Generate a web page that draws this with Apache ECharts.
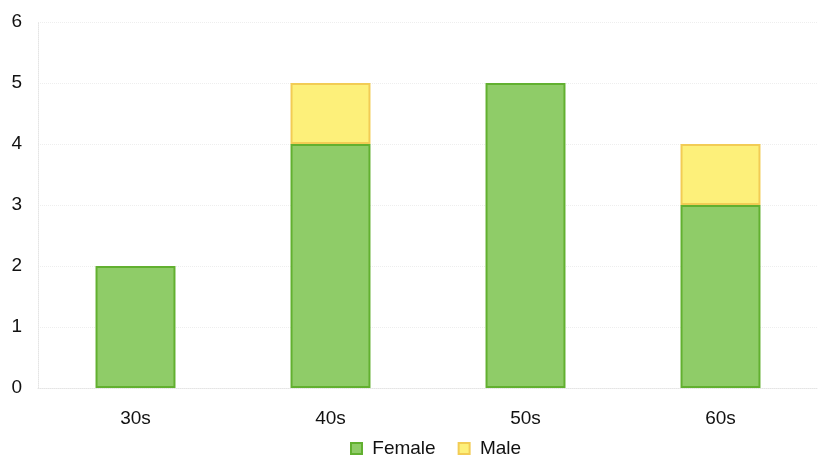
<!DOCTYPE html>
<html>
<head>
<meta charset="utf-8">
<script src="https://cdn.jsdelivr.net/npm/echarts@6/dist/echarts.min.js"></script>
<style>
  html, body { margin: 0; padding: 0; background: #fff; }
  #chart { width: 819px; height: 457px; }
</style>
</head>
<body>
<div id="chart"></div>
<script>
// Age groups and head counts per gender
const categories = ['30s', '40s', '50s', '60s'];
const female = [2, 4, 5, 3];
const male = [0, 1, 0, 1];
const yTicks = [0, 1, 2, 3, 4, 5, 6];

const chart = echarts.init(document.getElementById('chart'));
const font = 'Liberation Sans, Arial, sans-serif';

chart.setOption({
  animation: false,
  backgroundColor: '#ffffff',
  grid: { left: 38, right: 1, top: 22, bottom: 69 },
  legend: {
    top: 434,
    left: 345,
    icon: 'rect',
    itemWidth: 11,
    itemHeight: 11,
    itemGap: 22,
    formatter: name => ' ' + name,
    textStyle: { fontFamily: font, fontSize: 19, color: '#111' },
    data: ['Female', 'Male']
  },
  xAxis: {
    type: 'category',
    data: categories,
    axisLine: { lineStyle: { color: '#e4e4e4', type: 'dotted' } },
    axisTick: { show: false },
    axisLabel: { fontFamily: font, fontSize: 19, color: '#111', margin: 21 }
  },
  yAxis: {
    type: 'value',
    min: 0,
    max: 6,
    interval: 1,
    axisLine: { show: true, lineStyle: { color: '#e4e4e4', type: 'dotted' } },
    axisTick: { show: false },
    splitLine: { lineStyle: { color: '#eeeeee', type: 'dotted' } },
    axisLabel: {
      fontFamily: font, fontSize: 19, color: '#111', margin: 16,
      formatter: v => (yTicks.includes(v) ? String(v) : '')
    }
  },
  series: [
    {
      name: 'Female',
      type: 'bar',
      stack: 'total',
      barWidth: '41%',
      data: female,
      itemStyle: { color: '#8fcc68', borderColor: '#62b030', borderWidth: 2 }
    },
    {
      name: 'Male',
      type: 'bar',
      stack: 'total',
      data: male.map(v => (v === 0 ? null : v)),
      itemStyle: { color: '#fdf07a', borderColor: '#f2cc55', borderWidth: 2 }
    }
  ]
});
</script>
</body>
</html>
